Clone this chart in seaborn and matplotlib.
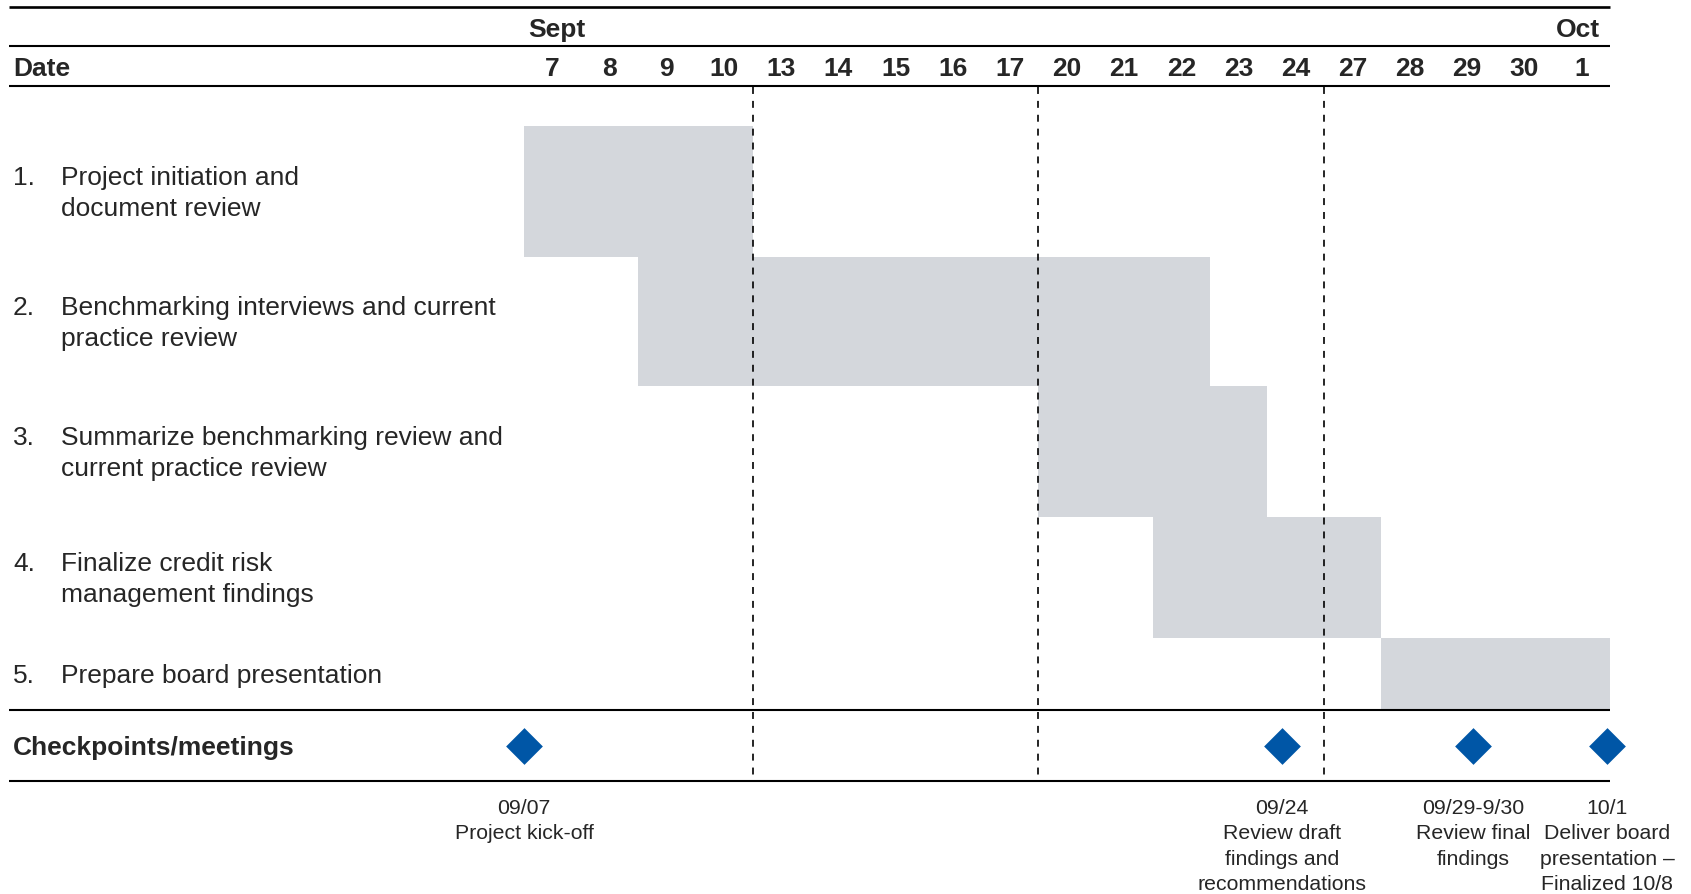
import matplotlib
matplotlib.use("Agg")
import matplotlib.pyplot as plt
import seaborn as sns
import pandas as pd

# ---- schedule data -------------------------------------------------------
days = ["7", "8", "9", "10", "13", "14", "15", "16", "17", "20",
        "21", "22", "23", "24", "27", "28", "29", "30", "1"]
months = ["Sept", "Oct"]

task_numbers = ["1.", "2.", "3.", "4.", "5."]
task_names = [
    "Project initiation and\ndocument review",
    "Benchmarking interviews and current\npractice review",
    "Summarize benchmarking review and\ncurrent practice review",
    "Finalize credit risk\nmanagement findings",
    "Prepare board presentation",
]
task_first_day = ["7", "9", "20", "22", "28"]
task_last_day = ["10", "22", "23", "27", "1"]

# week boundaries drawn as dashed separators (after these days)
phase_ends = ["10", "17", "24"]

# checkpoints, positioned in day-column units
milestone_pos = [0.0, 13.26, 16.6, 18.95]
milestone_labels = [
    "09/07\nProject kick-off",
    "09/24\nReview draft\nfindings and\nrecommendations",
    "09/29-9/30\nReview final\nfindings",
    "10/1\nDeliver board\npresentation –\nFinalized 10/8",
]

# ---- layout (pixels) -----------------------------------------------------
FIG_W, FIG_H, DPI = 1691, 894, 100
GRID_LEFT = 524          # left edge of the first day column
COL_W = 57.16            # width of one day column
LINE_LEFT = 9            # left end of the horizontal rules
ROW_EDGES = [126, 257, 386, 517, 638, 710]
Y_TOP_RULE, Y_MONTH_RULE, Y_DATE_RULE = 7, 46, 86
Y_MONTH, Y_DATE = 30, 69
Y_CHECK, Y_CHECK_RULE = 746, 781
Y_CHECK_TEXT = 799
TEXT_DY = 2              # optical nudge for vertically centred text
TASK_LINE_PX = 31        # line pitch of the task labels

BAR_COLOR = "#D4D7DC"
DIAMOND_COLOR = "#0056A6"

sns.set_theme(style="white")
plt.rcParams["font.family"] = ["Liberation Sans", "DejaVu Sans"]
plt.rcParams["lines.scale_dashes"] = False

fig = plt.figure(figsize=(FIG_W / DPI, FIG_H / DPI), dpi=DPI)
ax = fig.add_axes([0, 0, 1, 1])
ax.set_xlim(-GRID_LEFT / COL_W, (FIG_W - GRID_LEFT) / COL_W)
ax.set_ylim(FIG_H, 0)
ax.set_axis_off()


def px2x(px):
    return (px - GRID_LEFT) / COL_W


n_cols = len(days)
x_line_left = px2x(LINE_LEFT)

# task bars
starts = [days.index(d) for d in task_first_day]
ends = [days.index(d) + 1 for d in task_last_day]
tasks = pd.DataFrame({
    "start": starts, "end": ends,
    "top": ROW_EDGES[:-1], "bottom": ROW_EDGES[1:],
})
tasks["center"] = (tasks["top"] + tasks["bottom"]) / 2
tasks["height"] = tasks["bottom"] - tasks["top"]
ax.barh(tasks["center"], tasks["end"] - tasks["start"], left=tasks["start"],
        height=tasks["height"], color=BAR_COLOR, linewidth=0, zorder=1)

# task labels: number aligned with the first line of the name
for num, name, yc in zip(task_numbers, task_names, tasks["center"]):
    n_lines = name.count("\n") + 1
    y_first = yc + TEXT_DY - (n_lines - 1) * TASK_LINE_PX / 2
    ax.text(px2x(13), y_first, num, fontsize=19, va="center", ha="left")
    ax.text(px2x(61), yc + TEXT_DY, name, fontsize=19, va="center",
            ha="left", linespacing=1.39)

# horizontal rules
ax.hlines(Y_TOP_RULE, x_line_left, n_cols, color="black", lw=1.9, zorder=3)
for y in [Y_MONTH_RULE, Y_DATE_RULE, ROW_EDGES[-1], Y_CHECK_RULE]:
    ax.hlines(y, x_line_left, n_cols, color="black", lw=1.5, zorder=3)

# dashed week separators
for d in phase_ends:
    xb = days.index(d) + 1
    ax.vlines(xb, Y_DATE_RULE + 1, Y_CHECK_RULE, color="black", lw=1.2,
              linestyles=(0, (5, 5)), zorder=2)

# header: months and days
ax.text(px2x(528), Y_MONTH, months[0], fontsize=19, fontweight="bold",
        ha="left", va="center")
ax.text(px2x(1600), Y_MONTH, months[1], fontsize=19, fontweight="bold",
        ha="right", va="center")
ax.text(px2x(13), Y_DATE, "Date", fontsize=19, fontweight="bold",
        ha="left", va="center")
for i, d in enumerate(days):
    ax.text(i + 0.5, Y_DATE, d, fontsize=19, fontweight="bold",
            ha="center", va="center")

# checkpoints row
ax.text(px2x(13), Y_CHECK + TEXT_DY, "Checkpoints/meetings", fontsize=19,
        fontweight="bold", ha="left", va="center")
checks = pd.DataFrame({"x": milestone_pos, "y": [Y_CHECK] * len(milestone_pos)})
sns.scatterplot(data=checks, x="x", y="y", marker="D", s=350,
                color=DIAMOND_COLOR, linewidth=0, ax=ax, zorder=4,
                legend=False)
for xm, lab in zip(milestone_pos, milestone_labels):
    ax.text(xm, Y_CHECK_TEXT, lab, fontsize=15.3, ha="center", va="top",
            linespacing=1.42)

ax.set_xlabel("")
ax.set_ylabel("")
fig.savefig("out.png", dpi=DPI, facecolor="white")
